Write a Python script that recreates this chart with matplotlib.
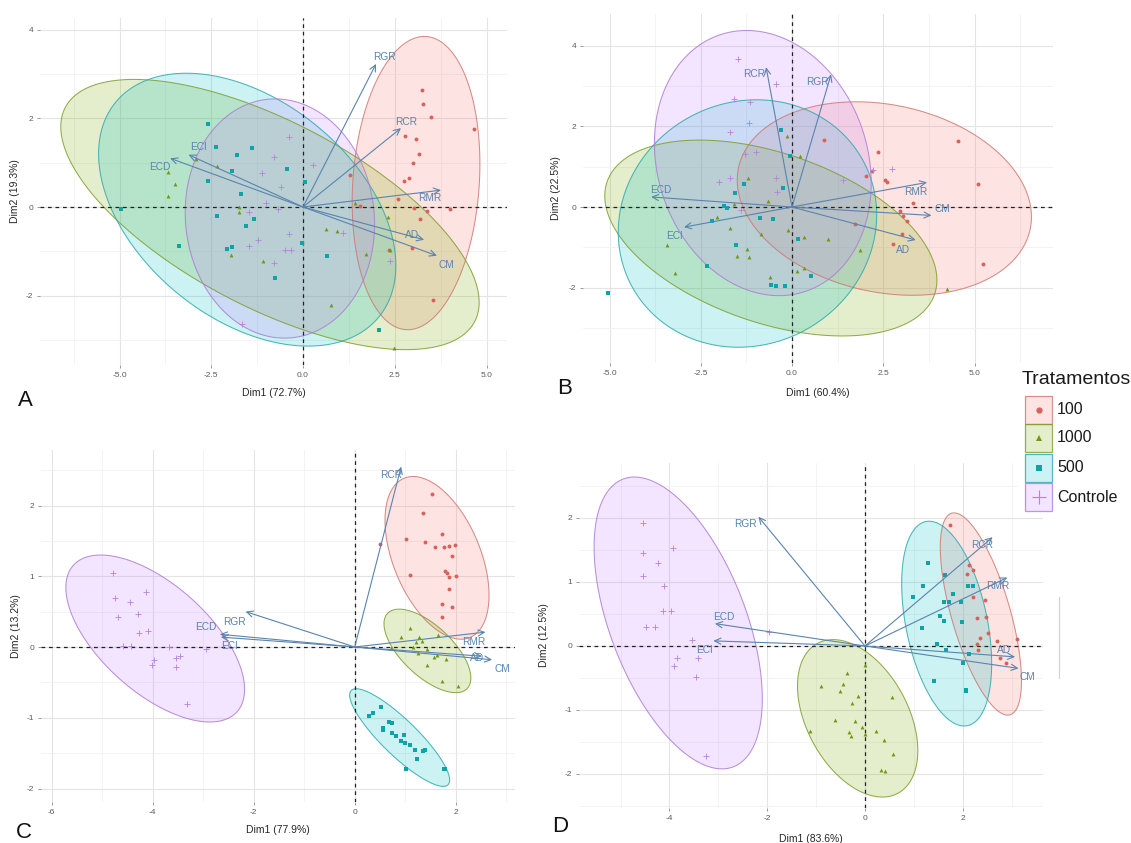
import numpy as np
import matplotlib
matplotlib.use("Agg")
import matplotlib.pyplot as plt
from matplotlib.patches import Polygon, Rectangle
from matplotlib.ticker import FixedLocator, FixedFormatter
from matplotlib.colors import to_rgb

plt.rcParams["font.family"] = ["Liberation Sans", "DejaVu Sans"]

W_PX, H_PX = 1131, 843

# ---------------------------------------------------------------- data
groups = ["100", "1000", "500", "Controle"]
group_colors = ["#F8766D", "#7CAE00", "#00BFC4", "#C77CFF"]
point_colors = ["#D9615A", "#6F9A10", "#0FA3A7", "#B483DC"]
group_markers = ["o", "^", "s", "+"]
variables = ["RGR", "RCR", "RMR", "AD", "CM", "ECI", "ECD"]

# Panel A
A_axis_titles = ("Dim1 (72.7%)", "Dim2 (19.3%)")
A_var_x = [1.99, 2.67, 3.76, 3.30, 3.65, -3.12, -3.62]
A_var_y = [3.23, 1.78, 0.38, -0.74, -1.10, 1.18, 1.10]
A_100_x = [3.24, 3.26, 3.50, 4.66, 2.79, 3.08, 3.15, 3.00, 2.88, 2.76, 2.58, 3.03, 3.38, 3.19, 4.00, 2.96, 2.35, 3.53, 1.27, 1.55]
A_100_y = [2.63, 2.32, 2.03, 1.77, 1.61, 1.54, 1.20, 0.99, 0.65, 0.58, 0.18, -0.02, -0.10, -0.26, -0.05, -0.92, -0.98, -2.09, 0.73, 0.03]
A_1000_x = [-2.91, -2.35, -3.67, -3.48, -3.68, -1.75, -1.75, -1.97, -1.10, 0.62, 0.93, 2.31, 1.72, 2.37, 0.77, 2.47, 1.43]
A_1000_y = [1.08, 0.92, 0.79, 0.53, 0.24, 0.00, -0.11, -1.09, -1.23, -0.50, -0.55, -0.23, -1.05, -0.98, -2.22, -3.18, 0.09]
A_500_x = [-2.58, -2.38, -1.40, -1.79, -1.93, -0.43, -2.58, 0.05, -1.70, -4.95, -2.33, -1.34, -1.54, -3.39, -1.93, -2.06, -0.02, 0.65, -0.75, 2.08]
A_500_y = [1.88, 1.35, 1.33, 1.18, 0.82, 0.86, 0.58, 0.56, 0.30, -0.05, -0.20, -0.26, -0.44, -0.89, -0.90, -0.95, -0.81, -1.10, -1.60, -2.78]
A_ctrl_x = [-0.38, -0.80, 0.27, -1.13, -0.59, -1.00, -0.68, -1.47, -0.39, -1.22, -1.47, -0.50, -0.34, -0.80, 1.09, 2.37, -1.65]
A_ctrl_y = [1.59, 1.13, 0.94, 0.77, 0.45, 0.08, -0.05, -0.11, -0.62, -0.75, -0.89, -0.98, -0.98, -1.26, -0.59, -1.23, -2.65]
A_ell_cx = [3.08, -0.90, -1.52, -0.63]
A_ell_cy = [0.54, -0.17, -0.06, -0.26]
A_ell_sx = [1.74, 5.70, 4.05, 2.58]
A_ell_sy = [3.31, 3.05, 3.08, 2.70]
A_ell_r = [0.13, -0.65, -0.41, -0.05]

# Panel B
B_axis_titles = ("Dim1 (60.4%)", "Dim2 (22.5%)")
B_var_x = [1.07, -0.71, 3.70, 3.39, 3.82, -2.96, -3.86]
B_var_y = [3.29, 3.47, 0.61, -0.82, -0.21, -0.50, 0.25]
B_100_x = [4.54, 5.10, 5.24, 0.88, 2.36, 2.20, 2.04, 2.54, 2.60, 3.32, 2.97, 3.04, 3.14, 3.00, 2.77, 1.73]
B_100_y = [1.64, 0.57, -1.42, 1.66, 1.37, 0.90, 0.76, 0.67, 0.63, 0.10, -0.09, -0.23, -0.35, -0.68, -0.93, -0.41]
B_1000_x = [-0.13, 0.21, -1.20, -1.59, -0.66, -2.05, -1.71, -0.84, -0.10, 0.34, 0.98, 1.85, -3.43, -3.20, -1.52, -1.22, -1.17, -0.60, 0.14, 0.34, 4.24]
B_1000_y = [1.76, 1.27, 0.72, 0.08, 0.16, -0.26, -0.52, -0.68, -0.56, -0.74, -0.79, -1.07, -0.95, -1.63, -1.22, -1.04, -1.24, -1.73, -1.59, -1.51, -2.04]
B_500_x = [-0.30, -0.05, -1.32, -1.57, -0.24, -1.85, -1.77, -2.18, -0.88, -0.52, 0.17, -1.54, -2.34, -0.57, -0.45, -0.20, 0.53, -5.03]
B_500_y = [1.91, 1.27, 0.58, 0.35, 0.47, 0.02, -0.02, -0.34, -0.27, -0.29, -0.79, -0.95, -1.46, -1.93, -1.96, -1.96, -1.70, -2.14]
B_ctrl_x = [-1.49, -0.44, -1.59, -1.15, -1.17, -1.69, -1.00, -1.30, 2.73, 1.41, -2.01, -1.69, -0.44, -0.42, -1.40, 2.21]
B_ctrl_y = [3.68, 3.05, 2.69, 2.61, 2.09, 1.87, 1.37, 1.32, 0.94, 0.67, 0.63, 0.73, 0.72, 0.36, -0.08, 0.91]
B_ell_cx = [2.53, -0.58, -1.22, -0.80]
B_ell_cy = [0.21, -0.77, -0.41, 1.09]
B_ell_sx = [4.03, 4.55, 3.54, 2.97]
B_ell_sy = [2.40, 2.43, 3.07, 3.29]
B_ell_r = [-0.19, -0.43, 0.07, -0.15]

# Panel C
C_axis_titles = ("Dim1 (77.9%)", "Dim2 (13.2%)")
C_var_x = [-2.16, 0.92, 2.59, 2.52, 2.72, -2.65, -2.67]
C_var_y = [0.50, 2.55, 0.21, -0.13, -0.18, 0.14, 0.18]
C_100_x = [1.53, 1.35, 1.01, 1.39, 1.72, 1.59, 1.77, 1.87, 1.99, 1.92, 1.09, 1.79, 1.82, 1.87, 2.01, 1.87, 1.72, 1.93, 1.72, 0.51]
C_100_y = [2.16, 1.90, 1.53, 1.49, 1.60, 1.42, 1.41, 1.43, 1.44, 1.29, 1.02, 1.07, 1.04, 0.99, 1.01, 0.82, 0.61, 0.57, 0.42, 1.45]
C_1000_x = [1.09, 0.92, 1.28, 1.33, 1.22, 1.65, 0.71, 1.16, 1.43, 1.26, 1.58, 1.63, 1.80, 1.44, 1.73, 2.04]
C_1000_y = [0.27, 0.14, 0.14, 0.09, 0.07, 0.17, -0.01, 0.00, -0.03, -0.09, -0.14, -0.12, -0.17, -0.26, -0.48, -0.55]
C_500_x = [0.52, 0.36, 0.29, 0.56, 0.56, 0.68, 0.73, 0.73, 0.82, 0.97, 0.99, 1.09, 0.92, 1.19, 1.24, 1.35, 1.39, 1.01, 1.76, 1.78]
C_500_y = [-0.85, -0.93, -0.97, -1.14, -1.18, -1.06, -1.08, -1.21, -1.26, -1.24, -1.36, -1.39, -1.33, -1.46, -1.58, -1.47, -1.45, -1.73, -1.72, -1.73]
C_ctrl_x = [-4.78, -4.74, -4.68, -4.44, -4.14, -4.30, -4.27, -4.10, -4.59, -4.42, -3.67, -2.94, -3.98, -4.01, -3.54, -3.46, -3.54, -3.32]
C_ctrl_y = [1.04, 0.69, 0.43, 0.64, 0.78, 0.47, 0.20, 0.22, 0.01, 0.01, 0.00, -0.03, -0.18, -0.26, -0.16, -0.13, -0.28, -0.81]
C_ell_cx = [1.63, 1.44, 0.89, -3.95]
C_ell_cy = [1.26, -0.055, -1.28, 0.12]
C_ell_sx = [1.03, 0.86, 0.99, 1.77]
C_ell_sy = [1.15, 0.59, 0.69, 1.18]
C_ell_r = [-0.46, -0.65, -0.87, -0.61]

# Panel D
D_axis_titles = ("Dim1 (83.6%)", "Dim2 (12.5%)")
D_var_x = [-2.18, 2.61, 2.91, 3.07, 3.14, -3.10, -3.07]
D_var_y = [2.02, 1.70, 1.07, -0.17, -0.35, 0.08, 0.35]
D_100_x = [1.74, 2.13, 2.20, 2.09, 2.21, 2.45, 2.30, 2.47, 2.52, 2.35, 2.70, 3.10, 2.30, 2.32, 2.77, 2.88]
D_100_y = [1.89, 1.27, 1.19, 1.13, 0.77, 0.72, 0.44, 0.46, 0.21, 0.12, 0.08, 0.11, 0.03, -0.06, -0.18, -0.26]
D_1000_x = [-0.36, -0.90, -0.45, -0.51, -0.15, -0.27, 0.55, -0.62, -0.20, -0.07, -1.13, -0.33, -0.29, 0.01, 0.23, 0.39, 0.58, 0.33, 0.40, 0.01]
D_1000_y = [-0.42, -0.63, -0.60, -0.71, -0.78, -0.89, -0.79, -1.15, -1.17, -1.26, -1.33, -1.35, -1.41, -1.37, -1.33, -1.47, -1.68, -1.94, -1.95, -0.30]
D_500_x = [1.29, 1.64, 1.18, 0.99, 1.61, 1.79, 1.72, 1.96, 1.17, 1.53, 1.62, 1.99, 1.47, 1.66, 1.42, 2.01, 2.12, 2.06, 2.07, 2.10, 2.21]
D_500_y = [1.30, 1.11, 0.94, 0.76, 0.69, 0.81, 0.68, 0.69, 0.28, 0.47, 0.39, 0.37, 0.03, -0.06, -0.55, -0.26, -0.13, -0.68, -0.71, 0.93, 0.93]
D_ctrl_x = [-4.54, -4.54, -3.92, -4.23, -4.54, -4.12, -4.14, -3.96, -4.47, -4.29, -3.54, -3.85, -3.42, -3.91, -3.45, -3.26, -1.97]
D_ctrl_y = [1.92, 1.46, 1.53, 1.29, 1.10, 0.93, 0.55, 0.55, 0.30, 0.29, 0.10, -0.18, -0.18, -0.32, -0.49, -1.72, 0.22]
D_ell_cx = [2.37, -0.15, 1.67, -3.82]
D_ell_cy = [0.50, -1.13, 0.35, 0.36]
D_ell_sx = [0.83, 1.23, 0.92, 1.72]
D_ell_sy = [1.58, 1.23, 1.60, 2.28]
D_ell_r = [-0.66, -0.41, -0.39, -0.52]

# ---------------------------------------------------------------- layout
ARROW_COLOR = "#5A84AE"
TICK_COLOR = "#5c5c5c"

fig = plt.figure(figsize=(W_PX / 100, H_PX / 100), dpi=100)


def muted(color, amount=0.35):
    """Blend a hue towards mid grey for the ellipse outlines."""
    r, g, b = to_rgb(color)
    gr = 0.5
    return (r + (gr - r) * amount, g + (gr - g) * amount, b + (gr - b) * amount)


def ellipse_outline(cx, cy, sx, sy, r, n=200):
    cov = np.array([[sx * sx, r * sx * sy], [r * sx * sy, sy * sy]])
    L = np.linalg.cholesky(cov)
    t = np.linspace(0, 2 * np.pi, n)
    circ = np.vstack([np.cos(t), np.sin(t)])
    pts = L @ circ
    return np.column_stack([pts[0] + cx, pts[1] + cy])


def draw_panel(box, scale, titles, var_x, var_y, label_off, pts, ell,
               xticks, xfmt, yticks, xminor, yminor, xlab_y, ylab_x):
    L, R, T, B = box
    x0, sx, y0, sy = scale
    ax = fig.add_axes([L / W_PX, 1 - B / H_PX, (R - L) / W_PX, (B - T) / H_PX])
    ax.set_xlim((L - x0) / sx, (R - x0) / sx)
    ax.set_ylim((y0 - B) / sy, (y0 - T) / sy)
    for s in ax.spines.values():
        s.set_visible(False)

    ax.xaxis.set_major_locator(FixedLocator(xticks))
    ax.xaxis.set_major_formatter(FixedFormatter([xfmt.format(v) for v in xticks]))
    ax.yaxis.set_major_locator(FixedLocator(yticks))
    ax.yaxis.set_major_formatter(FixedFormatter(["{:g}".format(v) for v in yticks]))
    ax.xaxis.set_minor_locator(FixedLocator(xminor))
    ax.yaxis.set_minor_locator(FixedLocator(yminor))
    ax.tick_params(which="major", length=2.2, width=0.6, color="#8a8a8a",
                   labelsize=6, labelcolor=TICK_COLOR, pad=2.5)
    ax.tick_params(which="minor", length=0)
    ax.grid(which="major", color="#e4e4e4", lw=0.8, zorder=0)
    ax.grid(which="minor", color="#f1f1f1", lw=0.6, zorder=0)
    ax.set_axisbelow(True)

    cxs, cys, sxs, sys_, rs = ell
    for i, g in enumerate(groups):
        poly = ellipse_outline(cxs[i], cys[i], sxs[i], sys_[i], rs[i])
        ax.add_patch(Polygon(poly, closed=True, facecolor=group_colors[i],
                             alpha=0.2, edgecolor="none", zorder=1))
        ax.add_patch(Polygon(poly, closed=True, facecolor="none",
                             edgecolor=muted(group_colors[i]), lw=0.75, alpha=0.85, zorder=2))

    ax.axhline(0, color="#222222", lw=0.9, ls=(0, (3, 3)), zorder=3)
    ax.axvline(0, color="#222222", lw=0.9, ls=(0, (3, 3)), zorder=3)

    for i, g in enumerate(groups):
        px, py = pts[i]
        if group_markers[i] == "+":
            ax.plot(px, py, ls="none", marker="+", ms=4.8, mew=0.6,
                    color=point_colors[i], zorder=4)
        else:
            ax.plot(px, py, ls="none", marker=group_markers[i], ms=2.8,
                    mew=0, color=point_colors[i], zorder=4)

    for k, name in enumerate(variables):
        ax.annotate("", xy=(var_x[k], var_y[k]), xytext=(0, 0),
                    arrowprops=dict(arrowstyle="->,head_length=0.45,head_width=0.22",
                                    color=ARROW_COLOR, lw=0.8,
                                    shrinkA=0, shrinkB=0), zorder=5)
        dx, dy = label_off[name]
        ax.annotate(name, xy=(var_x[k], var_y[k]), xytext=(dx, dy),
                    textcoords="offset pixels", ha="center", va="center",
                    color=ARROW_COLOR, fontsize=7.3, zorder=6)

    ax.set_xlabel(titles[0], fontsize=7.5, color="#262626")
    ax.set_ylabel(titles[1], fontsize=7.5, color="#262626")
    ax.xaxis.set_label_coords(0.5, (B - xlab_y) / (B - T))
    ax.yaxis.set_label_coords((ylab_x - L) / (R - L), 0.5)
    return ax


A_off = {"RGR": (8.7, 7), "RCR": (5, 5.7), "RMR": (-11.7, -8.3), "AD": (-11.7, 5),
         "CM": (9, -9), "ECI": (10, 7.3), "ECD": (-10.7, -9)}
B_off = {"RGR": (-13.6, -7.7), "RCR": (-11.8, -7.3), "RMR": (-11.4, -9.7), "AD": (-12.5, -10),
         "CM": (10.7, 6.7), "ECI": (-9.6, -9), "ECD": (10, 6.7)}
C_off = {"RGR": (-11, -10), "RCR": (-10.3, -8.3), "RMR": (-12, -10.3), "AD": (-5, -1.7),
         "CM": (10.3, -9.3), "ECI": (8.6, -8.7), "ECD": (-14.5, 7.7)}
D_off = {"RGR": (-13.2, -7.3), "RCR": (-11, -7.7), "RMR": (-10, -8.7), "AD": (-10.7, 6.7),
         "CM": (8.9, -9), "ECI": (-8.9, -9.3), "ECD": (8.9, 6.7)}

ticks_25 = [-5.0, -2.5, 0.0, 2.5, 5.0]
minor_25 = [-6.25, -3.75, -1.25, 1.25, 3.75]

draw_panel((40, 507, 18, 365), (303, 36.7, 207, 44.3), A_axis_titles,
           A_var_x, A_var_y, A_off,
           [(A_100_x, A_100_y), (A_1000_x, A_1000_y), (A_500_x, A_500_y), (A_ctrl_x, A_ctrl_y)],
           (A_ell_cx, A_ell_cy, A_ell_sx, A_ell_sy, A_ell_r),
           ticks_25, "{:.1f}", [-2, 0, 2, 4], minor_25, [-3, -1, 1, 3], 388, 20)

draw_panel((583, 1053, 14, 363), (792, 36.5, 207, 40.3), B_axis_titles,
           B_var_x, B_var_y, B_off,
           [(B_100_x, B_100_y), (B_1000_x, B_1000_y), (B_500_x, B_500_y), (B_ctrl_x, B_ctrl_y)],
           (B_ell_cx, B_ell_cy, B_ell_sx, B_ell_sy, B_ell_r),
           ticks_25, "{:.1f}", [-2, 0, 2, 4], minor_25 + [6.25], [-3, -1, 1, 3], 388, 561)

draw_panel((41, 515, 450, 802), (354.7, 50.5, 647, 70.75), C_axis_titles,
           C_var_x, C_var_y, C_off,
           [(C_100_x, C_100_y), (C_1000_x, C_1000_y), (C_500_x, C_500_y), (C_ctrl_x, C_ctrl_y)],
           (C_ell_cx, C_ell_cy, C_ell_sx, C_ell_sy, C_ell_r),
           [-6, -4, -2, 0, 2], "{:g}", [-2, -1, 0, 1, 2], [-5, -3, -1, 1, 3],
           [-1.5, -0.5, 0.5, 1.5, 2.5], 825, 21)

draw_panel((579, 1043, 463, 808), (865, 48.9, 646, 64), D_axis_titles,
           D_var_x, D_var_y, D_off,
           [(D_100_x, D_100_y), (D_1000_x, D_1000_y), (D_500_x, D_500_y), (D_ctrl_x, D_ctrl_y)],
           (D_ell_cx, D_ell_cy, D_ell_sx, D_ell_sy, D_ell_r),
           [-4, -2, 0, 2], "{:g}", [-2, -1, 0, 1, 2], [-5, -3, -1, 1, 3],
           [-2.5, -1.5, -0.5, 0.5, 1.5, 2.5], 834, 549)

# ---------------------------------------------------------------- overlay: legend and panel letters
ov = fig.add_axes([0, 0, 1, 1])
ov.set_xlim(0, W_PX)
ov.set_ylim(H_PX, 0)
ov.axis("off")

ov.add_patch(Rectangle((1018, 366), 113, 150, facecolor="white", edgecolor="none"))
ov.text(1022, 379, "Tratamentos", fontsize=14, ha="left", va="center", color="#1a1a1a")
key_tops = [396, 424, 454, 483]
for i, g in enumerate(groups):
    top = key_tops[i]
    ov.add_patch(Rectangle((1025, top), 27, 28, facecolor=group_colors[i], alpha=0.2,
                           edgecolor="none"))
    ov.add_patch(Rectangle((1025, top), 27, 28, facecolor="none",
                           edgecolor=muted(group_colors[i]), lw=0.9, alpha=0.8))
    cy = top + 14
    if group_markers[i] == "+":
        ov.plot([1038.5], [cy], marker="+", ms=10, mew=0.8, color=point_colors[i])
    else:
        ov.plot([1038.5], [cy], marker=group_markers[i], ms=4.5, mew=0,
                color=point_colors[i])
    ov.text(1057, cy, g, fontsize=11.5, ha="left", va="center", color="#1a1a1a")

ov.plot([1059, 1059], [597, 678], color="#cfcfcf", lw=0.8)

for letter, (lx, ly) in {"A": (25, 400), "B": (565, 389), "C": (24, 833), "D": (560, 826)}.items():
    ov.text(lx, ly, letter, fontsize=16, ha="center", va="center", color="#111111")

fig.savefig("out.png", dpi=100)
